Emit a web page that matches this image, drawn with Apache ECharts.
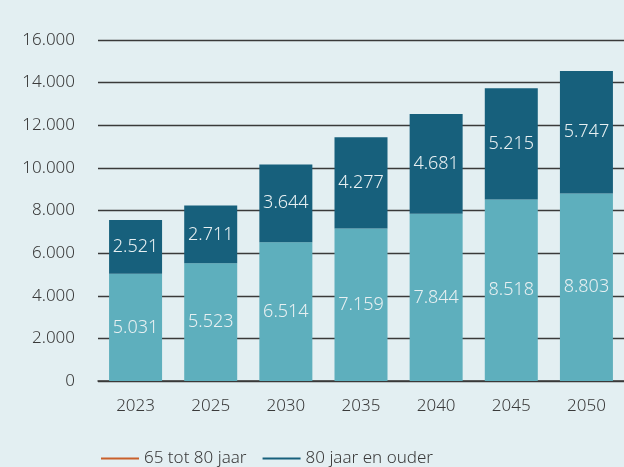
<!DOCTYPE html>
<html>
<head>
<meta charset="utf-8">
<script src="https://cdn.jsdelivr.net/npm/echarts@6/dist/echarts.min.js"></script>
<style>
  html, body { margin: 0; padding: 0; background: #e3eff2; }
  #chart { width: 624px; height: 467px; }
</style>
</head>
<body>
<div id="chart"></div>
<script>
var years = ['2023', '2025', '2030', '2035', '2040', '2045', '2050'];
var age65to80 = [5031, 5523, 6514, 7159, 7844, 8518, 8803];
var age80plus = [2521, 2711, 3644, 4277, 4681, 5215, 5747];
var seriesNames = ['65 tot 80 jaar', '80 jaar en ouder'];

var fontFam = '"Noto Sans", "Open Sans", sans-serif';

function fmt(v) {
    return String(v).replace(/\B(?=(\d{3})+(?!\d))/g, '.');
}

var labelStyle = {
    show: true,
    position: 'inside',
    color: '#e8f0f2',
    fontSize: 18,
    fontWeight: 300,
    fontFamily: fontFam,
    formatter: function (p) { return fmt(p.value); }
};

var chart = echarts.init(document.getElementById('chart'));
chart.setOption({
    backgroundColor: '#e3eff2',
    animation: false,
    grid: { left: 98, right: -4, top: 40, height: 341 },
    legend: {
        left: 96,
        top: 445,
        itemWidth: 38,
        itemHeight: 2,
        itemGap: 16,
        icon: 'rect',
        textStyle: { color: '#3a3a3a', fontSize: 17, fontWeight: 300, fontFamily: fontFam },
        data: [
            { name: seriesNames[0], itemStyle: { color: '#c9602b' } },
            { name: seriesNames[1], itemStyle: { color: '#17607c' } }
        ]
    },
    xAxis: {
        type: 'category',
        data: years,
        axisLine: { show: true, lineStyle: { color: '#3a3a3a', width: 1.5 } },
        axisTick: { show: false },
        axisLabel: { color: '#3a3a3a', fontSize: 17, fontWeight: 300, fontFamily: fontFam, margin: 17 }
    },
    yAxis: {
        type: 'value',
        min: 0,
        max: 16000,
        interval: 2000,
        axisLine: { show: false },
        axisTick: { show: false },
        splitLine: { lineStyle: { color: '#3a3a3a', width: 1.4 } },
        axisLabel: {
            color: '#3a3a3a', fontSize: 17, fontWeight: 300, fontFamily: fontFam, margin: 23,
            formatter: function (v) { return fmt(v); }
        }
    },
    series: [
        {
            name: seriesNames[0],
            type: 'bar',
            stack: 'total',
            barWidth: 53,
            data: age65to80,
            itemStyle: { color: '#5eafbd' },
            label: labelStyle
        },
        {
            name: seriesNames[1],
            type: 'bar',
            stack: 'total',
            barWidth: 53,
            data: age80plus,
            itemStyle: { color: '#17607c' },
            label: labelStyle
        }
    ]
});
</script>
</body>
</html>
